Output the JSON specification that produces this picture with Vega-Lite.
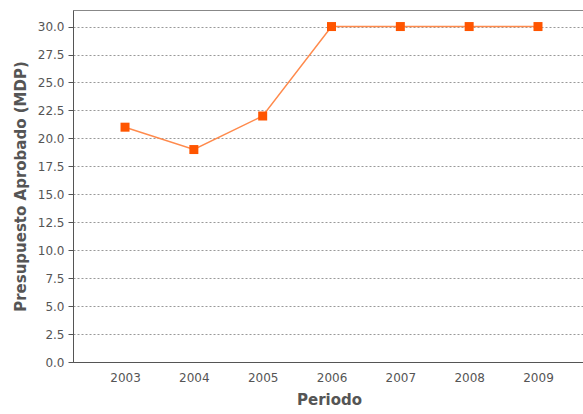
{
  "$schema": "https://vega.github.io/schema/vega-lite/v6.json",
  "autosize": {"type": "none"},
  "padding": {"left": 73, "top": 10, "right": 0, "bottom": 52},
  "width": 512,
  "height": 352,
  "background": "white",
  "config": {
    "view": {"stroke": "#888888", "strokeWidth": 1},
    "font": "DejaVu Sans"
  },
  "data": {
    "values": [
      {"Periodo": 2003, "Presupuesto": 21},
      {"Periodo": 2004, "Presupuesto": 19},
      {"Periodo": 2005, "Presupuesto": 22},
      {"Periodo": 2006, "Presupuesto": 30},
      {"Periodo": 2007, "Presupuesto": 30},
      {"Periodo": 2008, "Presupuesto": 30},
      {"Periodo": 2009, "Presupuesto": 30}
    ]
  },
  "encoding": {
    "x": {
      "field": "Periodo",
      "type": "quantitative",
      "scale": {"domain": [2002.244, 2009.683], "nice": false, "zero": false},
      "axis": {
        "values": [2003, 2004, 2005, 2006, 2007, 2008, 2009],
        "format": "d",
        "title": "Periodo",
        "grid": false,
        "ticks": false,
        "domainColor": "#555555",
        "labelColor": "#555555",
        "labelFontSize": 12,
        "labelPadding": 10,
        "titleFontSize": 15,
        "titleFontWeight": "bold",
        "titleColor": "#555555",
        "titlePadding": 9
      }
    },
    "y": {
      "field": "Presupuesto",
      "type": "quantitative",
      "scale": {"domain": [0, 31.48], "nice": false},
      "axis": {
        "values": [0, 2.5, 5, 7.5, 10, 12.5, 15, 17.5, 20, 22.5, 25, 27.5, 30],
        "format": ".1f",
        "title": "Presupuesto Aprobado (MDP)",
        "grid": true,
        "gridColor": "#999999",
        "gridDash": [2, 2],
        "gridWidth": 1,
        "domainColor": "#555555",
        "tickColor": "#555555",
        "tickSize": 5,
        "labelColor": "#555555",
        "labelFontSize": 12,
        "labelPadding": 4,
        "titleFontSize": 15,
        "titleFontWeight": "bold",
        "titleColor": "#555555",
        "titlePadding": 9
      }
    }
  },
  "layer": [
    {"mark": {"type": "line", "color": "#FF8A4C", "strokeWidth": 1.5}},
    {"mark": {"type": "point", "shape": "square", "filled": true, "color": "#FF5500", "opacity": 1, "size": 81}}
  ]
}
